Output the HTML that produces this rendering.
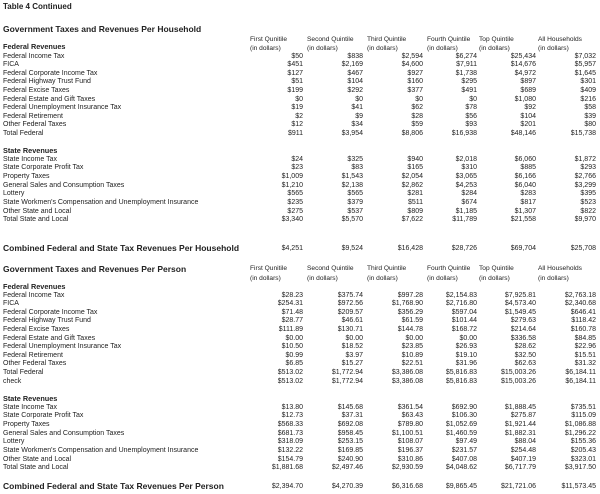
<!DOCTYPE html>
<html><head><meta charset="utf-8"><style>
body{margin:0;background:#fff;}
#w{position:relative;width:600px;height:494px;overflow:hidden;font-family:"Liberation Sans",Arial,sans-serif;color:#222;font-size:7px;}
.r{position:absolute;left:0;width:600px;height:9px;line-height:9px;white-space:nowrap;}
.r span{position:absolute;left:3px;}
.r i{position:absolute;font-style:normal;text-align:right;}
.r i:nth-of-type(1){right:297px}.r i:nth-of-type(2){right:237px}.r i:nth-of-type(3){right:177px}
.r i:nth-of-type(4){right:123px}.r i:nth-of-type(5){right:64px}.r i:nth-of-type(6){right:4px}
.h{position:absolute;font-weight:bold;white-space:nowrap;}
.t{font-size:8.5px;left:3px;}
.s{font-size:7.3px;left:3px;}
.ch{position:absolute;font-size:6.6px;line-height:9px;white-space:nowrap;}
</style></head><body><div id="w">
<div class="h" style="top:2px;left:3px;font-size:8px">Table 4 Continued</div>
<div class="h t" style="top:24px">Government Taxes and Revenues Per Household</div>
<div class="ch" style="top:35px;left:250px">First Qunitile<br>(in dollars)</div>
<div class="ch" style="top:35px;left:307px">Second Quintile<br>(in dollars)</div>
<div class="ch" style="top:35px;left:367px">Third Quintile<br>(in dollars)</div>
<div class="ch" style="top:35px;left:427px">Fourth Quintile<br>(in dollars)</div>
<div class="ch" style="top:35px;left:479px">Top Quintile<br>(in dollars)</div>
<div class="ch" style="top:35px;left:538px">All Households<br>(in dollars)</div>
<div class="h s" style="top:42px">Federal Revenues</div>
<div class="r" style="top:51.5px"><span>Federal Income Tax</span><i>$50</i><i>$838</i><i>$2,594</i><i>$6,274</i><i>$25,434</i><i>$7,032</i></div>
<div class="r" style="top:60.1px"><span>FICA</span><i>$451</i><i>$2,169</i><i>$4,600</i><i>$7,911</i><i>$14,676</i><i>$5,957</i></div>
<div class="r" style="top:68.7px"><span>Federal Corporate Income Tax</span><i>$127</i><i>$467</i><i>$927</i><i>$1,738</i><i>$4,972</i><i>$1,645</i></div>
<div class="r" style="top:77.3px"><span>Federal Highway Trust Fund</span><i>$51</i><i>$104</i><i>$160</i><i>$295</i><i>$897</i><i>$301</i></div>
<div class="r" style="top:85.9px"><span>Federal Excise Taxes</span><i>$199</i><i>$292</i><i>$377</i><i>$491</i><i>$689</i><i>$409</i></div>
<div class="r" style="top:94.5px"><span>Federal Estate and Gift Taxes</span><i>$0</i><i>$0</i><i>$0</i><i>$0</i><i>$1,080</i><i>$216</i></div>
<div class="r" style="top:103.1px"><span>Federal Unemployment Insurance Tax</span><i>$19</i><i>$41</i><i>$62</i><i>$78</i><i>$92</i><i>$58</i></div>
<div class="r" style="top:111.7px"><span>Federal Retirement</span><i>$2</i><i>$9</i><i>$28</i><i>$56</i><i>$104</i><i>$39</i></div>
<div class="r" style="top:120.3px"><span>Other Federal Taxes</span><i>$12</i><i>$34</i><i>$59</i><i>$93</i><i>$201</i><i>$80</i></div>
<div class="r" style="top:128.9px"><span>Total Federal</span><i>$911</i><i>$3,954</i><i>$8,806</i><i>$16,938</i><i>$48,146</i><i>$15,738</i></div>
<div class="h s" style="top:146px">State Revenues</div>
<div class="r" style="top:154.5px"><span>State Income Tax</span><i>$24</i><i>$325</i><i>$940</i><i>$2,018</i><i>$6,060</i><i>$1,872</i></div>
<div class="r" style="top:163.2px"><span>State Corporate Profit Tax</span><i>$23</i><i>$83</i><i>$165</i><i>$310</i><i>$885</i><i>$293</i></div>
<div class="r" style="top:171.9px"><span>Property Taxes</span><i>$1,009</i><i>$1,543</i><i>$2,054</i><i>$3,065</i><i>$6,166</i><i>$2,766</i></div>
<div class="r" style="top:180.6px"><span>General Sales and Consumption Taxes</span><i>$1,210</i><i>$2,138</i><i>$2,862</i><i>$4,253</i><i>$6,040</i><i>$3,299</i></div>
<div class="r" style="top:189.3px"><span>Lottery</span><i>$565</i><i>$565</i><i>$281</i><i>$284</i><i>$283</i><i>$395</i></div>
<div class="r" style="top:198px"><span>State Workmen's Compensation and Unemployment Insurance</span><i>$235</i><i>$379</i><i>$511</i><i>$674</i><i>$817</i><i>$523</i></div>
<div class="r" style="top:206.7px"><span>Other State and Local</span><i>$275</i><i>$537</i><i>$809</i><i>$1,185</i><i>$1,307</i><i>$822</i></div>
<div class="r" style="top:215.4px"><span>Total State and Local</span><i>$3,340</i><i>$5,570</i><i>$7,622</i><i>$11,789</i><i>$21,558</i><i>$9,970</i></div>
<div class="h t" style="top:243px">Combined Federal and State Tax Revenues Per Household</div>
<div class="r" style="top:243.5px"><i>$4,251</i><i>$9,524</i><i>$16,428</i><i>$28,726</i><i>$69,704</i><i>$25,708</i></div>

<div class="h t" style="top:264px">Government Taxes and Revenues Per Person</div>
<div class="ch" style="top:264px;left:250px;line-height:10px">First Qunitile<br>(in dollars)</div>
<div class="ch" style="top:264px;left:307px;line-height:10px">Second Quintile<br>(in dollars)</div>
<div class="ch" style="top:264px;left:367px;line-height:10px">Third Quintile<br>(in dollars)</div>
<div class="ch" style="top:264px;left:427px;line-height:10px">Fourth Quintile<br>(in dollars)</div>
<div class="ch" style="top:264px;left:479px;line-height:10px">Top Quintile<br>(in dollars)</div>
<div class="ch" style="top:264px;left:538px;line-height:10px">All Households<br>(in dollars)</div>
<div class="h s" style="top:282px">Federal Revenues</div>
<div class="r" style="top:290.5px"><span>Federal Income Tax</span><i>$28.23</i><i>$375.74</i><i>$997.28</i><i>$2,154.83</i><i>$7,925.81</i><i>$2,763.18</i></div>
<div class="r" style="top:299.1px"><span>FICA</span><i>$254.31</i><i>$972.56</i><i>$1,768.90</i><i>$2,716.80</i><i>$4,573.40</i><i>$2,340.68</i></div>
<div class="r" style="top:307.7px"><span>Federal Corporate Income Tax</span><i>$71.48</i><i>$209.57</i><i>$356.29</i><i>$597.04</i><i>$1,549.45</i><i>$646.41</i></div>
<div class="r" style="top:316.3px"><span>Federal Highway Trust Fund</span><i>$28.77</i><i>$46.61</i><i>$61.59</i><i>$101.44</i><i>$279.63</i><i>$118.42</i></div>
<div class="r" style="top:324.9px"><span>Federal Excise Taxes</span><i>$111.89</i><i>$130.71</i><i>$144.78</i><i>$168.72</i><i>$214.64</i><i>$160.78</i></div>
<div class="r" style="top:333.5px"><span>Federal Estate and Gift Taxes</span><i>$0.00</i><i>$0.00</i><i>$0.00</i><i>$0.00</i><i>$336.58</i><i>$84.85</i></div>
<div class="r" style="top:342.1px"><span>Federal Unemployment Insurance Tax</span><i>$10.50</i><i>$18.52</i><i>$23.85</i><i>$26.93</i><i>$28.62</i><i>$22.96</i></div>
<div class="r" style="top:350.7px"><span>Federal Retirement</span><i>$0.99</i><i>$3.97</i><i>$10.89</i><i>$19.10</i><i>$32.50</i><i>$15.51</i></div>
<div class="r" style="top:359.3px"><span>Other Federal Taxes</span><i>$6.85</i><i>$15.27</i><i>$22.51</i><i>$31.96</i><i>$62.63</i><i>$31.32</i></div>
<div class="r" style="top:367.9px"><span>Total Federal</span><i>$513.02</i><i>$1,772.94</i><i>$3,386.08</i><i>$5,816.83</i><i>$15,003.26</i><i>$6,184.11</i></div>
<div class="r" style="top:376.5px"><span>check</span><i>$513.02</i><i>$1,772.94</i><i>$3,386.08</i><i>$5,816.83</i><i>$15,003.26</i><i>$6,184.11</i></div>
<div class="h s" style="top:394px">State Revenues</div>
<div class="r" style="top:402.5px"><span>State Income Tax</span><i>$13.80</i><i>$145.68</i><i>$361.54</i><i>$692.90</i><i>$1,888.45</i><i>$735.51</i></div>
<div class="r" style="top:411.2px"><span>State Corporate Profit Tax</span><i>$12.73</i><i>$37.31</i><i>$63.43</i><i>$106.30</i><i>$275.87</i><i>$115.09</i></div>
<div class="r" style="top:419.9px"><span>Property Taxes</span><i>$568.33</i><i>$692.08</i><i>$789.80</i><i>$1,052.69</i><i>$1,921.44</i><i>$1,086.88</i></div>
<div class="r" style="top:428.6px"><span>General Sales and Consumption Taxes</span><i>$681.73</i><i>$958.45</i><i>$1,100.51</i><i>$1,460.59</i><i>$1,882.31</i><i>$1,296.22</i></div>
<div class="r" style="top:437.3px"><span>Lottery</span><i>$318.09</i><i>$253.15</i><i>$108.07</i><i>$97.49</i><i>$88.04</i><i>$155.36</i></div>
<div class="r" style="top:446px"><span>State Workmen's Compensation and Unemployment Insurance</span><i>$132.22</i><i>$169.85</i><i>$196.37</i><i>$231.57</i><i>$254.48</i><i>$205.43</i></div>
<div class="r" style="top:454.7px"><span>Other State and Local</span><i>$154.79</i><i>$240.90</i><i>$310.86</i><i>$407.08</i><i>$407.19</i><i>$323.01</i></div>
<div class="r" style="top:463.4px"><span>Total State and Local</span><i>$1,881.68</i><i>$2,497.46</i><i>$2,930.59</i><i>$4,048.62</i><i>$6,717.79</i><i>$3,917.50</i></div>
<div class="h t" style="top:481px">Combined Federal and State Tax Revenues Per Person</div>
<div class="r" style="top:481.5px"><i>$2,394.70</i><i>$4,270.39</i><i>$6,316.68</i><i>$9,865.45</i><i>$21,721.06</i><i>$11,573.45</i></div>
</div></body></html>
